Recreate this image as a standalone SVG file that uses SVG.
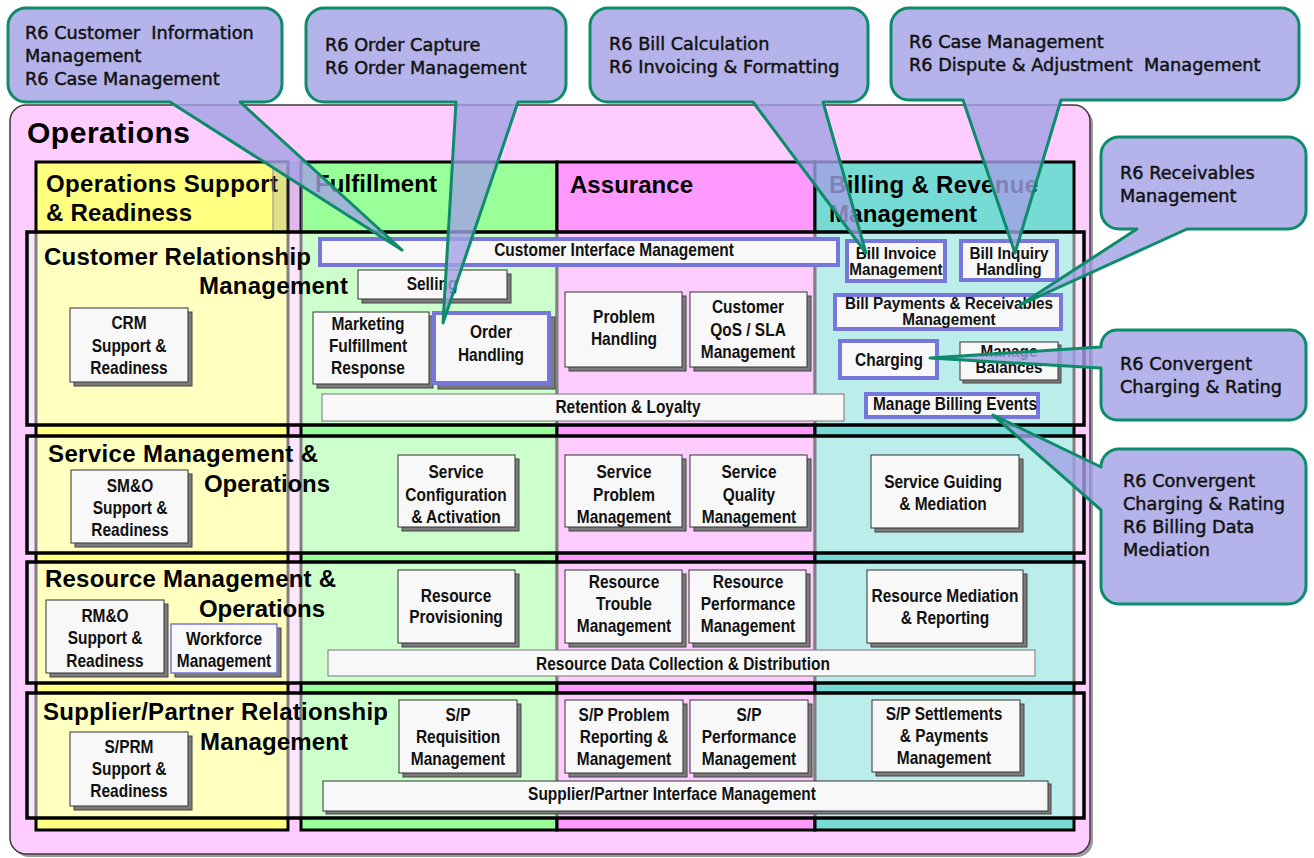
<svg xmlns="http://www.w3.org/2000/svg" width="1314" height="858" viewBox="0 0 1314 858">
<style>
.ttl{font-family:"Liberation Sans",Arial,sans-serif;font-weight:bold;font-size:24px;fill:#000}
.big{font-size:30px}
.bt{font-family:"Liberation Sans",Arial,sans-serif;font-weight:bold;font-size:18px;text-anchor:middle;fill:#111}
.sm{font-size:17px}
.box{fill:#f8f8f8;stroke:#333;stroke-width:1}
.flat{fill:#f8f8f8;stroke:#777;stroke-width:1}
.shd{fill:#7c7c7c;stroke:#444;stroke-width:1}
.hl{fill:#f8f8f8;stroke:#7676dc;stroke-width:4}
.thin{fill:#f8f8f8;stroke:#7676dc;stroke-width:1.5}
.col{stroke:#000;stroke-width:3}
.row{fill:#fff;fill-opacity:.5;stroke:#000;stroke-width:3.5}
.co{fill:#a1a1e5;fill-opacity:.8;stroke:#0c8c6a;stroke-width:3;stroke-linejoin:round}
.ct{font-family:"DejaVu Sans",Verdana,sans-serif;font-size:17.7px;fill:#111;stroke:#111;stroke-width:.45}
</style>

<!-- Operations frame -->
<g id="operations">
  <rect x="13" y="108" width="1080" height="749" rx="16" fill="#9a9a9a"/>
  <rect x="10" y="105" width="1080" height="749" rx="16" fill="#ffccff" stroke="#3a3a3a" stroke-width="1.5"/>
  <text class="ttl big" x="27" y="143" textLength="163">Operations</text>
</g>

<!-- Vertical process groupings -->
<g id="columns">
  <g id="col-osr">
    <rect class="col" x="36" y="162" width="252" height="668" fill="#ffff80"/>
    <text class="ttl" x="46" y="192" textLength="232">Operations Support</text>
    <text class="ttl" x="46" y="221" textLength="146">&amp; Readiness</text>
  </g>
  <g id="col-fulfillment">
    <rect class="col" x="301" y="162" width="256" height="668" fill="#99ff99"/>
    <text class="ttl" x="315" y="192" textLength="122">Fulfillment</text>
  </g>
  <g id="col-assurance">
    <rect class="col" x="557" y="162" width="258" height="668" fill="#ff99ff"/>
    <text class="ttl" x="570" y="193" textLength="123">Assurance</text>
  </g>
  <g id="col-billing">
    <rect class="col" x="815" y="162" width="259" height="668" fill="#77dbd5"/>
    <text class="ttl" x="829" y="193" textLength="209">Billing &amp; Revenue</text>
    <text class="ttl" x="829" y="222" textLength="148">Management</text>
  </g>
  <!-- faint divider band between the first two groupings -->
  <rect x="273" y="163" width="29" height="69" fill="#7070a0" fill-opacity=".22" stroke="#8a8a9a" stroke-width="1.5" stroke-opacity=".7"/>
</g>

<!-- Horizontal functional layers -->
<g id="rows">
  <g id="row-crm">
    <rect class="row" x="27" y="232" width="1057" height="193"/>
    <text class="ttl" x="44" y="265" textLength="267">Customer Relationship</text>
    <text class="ttl" x="199" y="294" textLength="149">Management</text>
  </g>
  <g id="row-service">
    <rect class="row" x="27" y="436" width="1057" height="117"/>
    <text class="ttl" x="48" y="462" textLength="270">Service Management &amp;</text>
    <text class="ttl" x="204" y="492" textLength="126">Operations</text>
  </g>
  <g id="row-resource">
    <rect class="row" x="27" y="562" width="1057" height="121"/>
    <text class="ttl" x="45" y="587" textLength="291">Resource Management &amp;</text>
    <text class="ttl" x="199" y="617" textLength="126">Operations</text>
  </g>
  <g id="row-supplier">
    <rect class="row" x="27" y="693" width="1057" height="125"/>
    <text class="ttl" x="43" y="720" textLength="345">Supplier/Partner Relationship</text>
    <text class="ttl" x="200" y="750" textLength="148">Management</text>
  </g>
</g>

<!-- Process boxes (labels set in a condensed bold face) -->
<g id="processes">
  <!-- Customer Relationship Management -->
  <g id="crm-support">
    <rect class="shd" x="74" y="312" width="118" height="74"/>
    <rect class="box" x="70" y="308" width="118" height="74"/>
    <text class="bt" transform="translate(129 0) scale(.86 1)"><tspan x="0" y="329">CRM</tspan><tspan x="0" y="352">Support &amp;</tspan><tspan x="0" y="374">Readiness</tspan></text>
  </g>
  <g id="customer-interface">
    <rect class="hl" x="320" y="239" width="518" height="26"/>
    <text class="bt" transform="translate(614 0) scale(.86 1)" x="0" y="256">Customer Interface Management</text>
  </g>
  <g id="selling">
    <rect class="shd" x="362" y="274" width="149" height="29"/>
    <rect class="box" x="358" y="270" width="149" height="29"/>
    <text class="bt" transform="translate(432 0) scale(.86 1)" x="0" y="290">Selling</text>
  </g>
  <g id="marketing-fulfillment">
    <rect class="shd" x="317" y="316" width="116" height="72"/>
    <rect class="box" x="313" y="312" width="116" height="72"/>
    <text class="bt" transform="translate(368 0) scale(.86 1)"><tspan x="0" y="330">Marketing</tspan><tspan x="0" y="352">Fulfillment</tspan><tspan x="0" y="374">Response</tspan></text>
  </g>
  <g id="order-handling">
    <rect class="shd" x="438" y="317" width="117" height="72"/>
    <rect class="hl" x="434" y="313" width="115" height="70"/>
    <text class="bt" transform="translate(491 0) scale(.86 1)"><tspan x="0" y="338">Order</tspan><tspan x="0" y="361">Handling</tspan></text>
  </g>
  <g id="problem-handling">
    <rect class="shd" x="569" y="296" width="117" height="75"/>
    <rect class="box" x="565" y="292" width="117" height="75"/>
    <text class="bt" transform="translate(624 0) scale(.86 1)"><tspan x="0" y="323">Problem</tspan><tspan x="0" y="345">Handling</tspan></text>
  </g>
  <g id="customer-qos">
    <rect class="shd" x="694" y="296" width="117" height="75"/>
    <rect class="box" x="690" y="292" width="117" height="75"/>
    <text class="bt" transform="translate(748 0) scale(.86 1)"><tspan x="0" y="313">Customer</tspan><tspan x="0" y="336">QoS / SLA</tspan><tspan x="0" y="358">Management</tspan></text>
  </g>
  <g id="retention-loyalty">
    <rect class="flat" x="322" y="394" width="522" height="27"/>
    <text class="bt" transform="translate(628 0) scale(.86 1)" x="0" y="413">Retention &amp; Loyalty</text>
  </g>
  <g id="bill-invoice">
    <rect class="hl" x="847" y="241" width="98" height="40"/>
    <text class="bt sm" transform="translate(896 0) scale(.9 1)"><tspan x="0" y="259">Bill Invoice</tspan><tspan x="0" y="275">Management</tspan></text>
  </g>
  <g id="bill-inquiry">
    <rect class="hl" x="961" y="241" width="96" height="39"/>
    <text class="bt sm" transform="translate(1009 0) scale(.9 1)"><tspan x="0" y="259">Bill Inquiry</tspan><tspan x="0" y="275">Handling</tspan></text>
  </g>
  <g id="bill-payments">
    <rect class="hl" x="835" y="295" width="226" height="34"/>
    <text class="bt sm" transform="translate(949 0) scale(.9 1)"><tspan x="0" y="309">Bill Payments &amp; Receivables</tspan><tspan x="0" y="325">Management</tspan></text>
  </g>
  <g id="charging">
    <rect class="hl" x="840" y="341" width="97" height="37"/>
    <text class="bt" transform="translate(889 0) scale(.86 1)" x="0" y="366">Charging</text>
  </g>
  <g id="manage-balances">
    <rect class="shd" x="963" y="345" width="98" height="38"/>
    <rect class="box" x="960" y="342" width="98" height="38"/>
    <text class="bt sm" transform="translate(1009 0) scale(.9 1)"><tspan x="0" y="357">Manage</tspan><tspan x="0" y="373">Balances</tspan></text>
  </g>
  <g id="billing-events">
    <rect class="hl" x="866" y="394" width="172" height="23"/>
    <text class="bt" transform="translate(955 0) scale(.86 1)" x="0" y="410">Manage Billing Events</text>
  </g>

  <!-- Service Management & Operations -->
  <g id="smo-support">
    <rect class="shd" x="75" y="474" width="117" height="73"/>
    <rect class="box" x="71" y="470" width="117" height="73"/>
    <text class="bt" transform="translate(130 0) scale(.86 1)"><tspan x="0" y="492">SM&amp;O</tspan><tspan x="0" y="514">Support &amp;</tspan><tspan x="0" y="536">Readiness</tspan></text>
  </g>
  <g id="service-config">
    <rect class="shd" x="402" y="459" width="117" height="72"/>
    <rect class="box" x="398" y="455" width="117" height="72"/>
    <text class="bt" transform="translate(456 0) scale(.86 1)"><tspan x="0" y="478">Service</tspan><tspan x="0" y="501">Configuration</tspan><tspan x="0" y="523">&amp; Activation</tspan></text>
  </g>
  <g id="service-problem">
    <rect class="shd" x="569" y="459" width="117" height="72"/>
    <rect class="box" x="565" y="455" width="117" height="72"/>
    <text class="bt" transform="translate(624 0) scale(.86 1)"><tspan x="0" y="478">Service</tspan><tspan x="0" y="501">Problem</tspan><tspan x="0" y="523">Management</tspan></text>
  </g>
  <g id="service-quality">
    <rect class="shd" x="694" y="459" width="117" height="72"/>
    <rect class="box" x="690" y="455" width="117" height="72"/>
    <text class="bt" transform="translate(749 0) scale(.86 1)"><tspan x="0" y="478">Service</tspan><tspan x="0" y="501">Quality</tspan><tspan x="0" y="523">Management</tspan></text>
  </g>
  <g id="service-guiding">
    <rect class="shd" x="875" y="459" width="148" height="73"/>
    <rect class="box" x="871" y="455" width="148" height="73"/>
    <text class="bt" transform="translate(943 0) scale(.86 1)"><tspan x="0" y="488">Service Guiding</tspan><tspan x="0" y="510">&amp; Mediation</tspan></text>
  </g>

  <!-- Resource Management & Operations -->
  <g id="rmo-support">
    <rect class="shd" x="50" y="604" width="118" height="73"/>
    <rect class="box" x="46" y="600" width="118" height="73"/>
    <text class="bt" transform="translate(105 0) scale(.86 1)"><tspan x="0" y="622">RM&amp;O</tspan><tspan x="0" y="644">Support &amp;</tspan><tspan x="0" y="667">Readiness</tspan></text>
  </g>
  <g id="workforce">
    <rect class="shd" x="175" y="628" width="106" height="49"/>
    <rect class="thin" x="171" y="624" width="106" height="49"/>
    <text class="bt" transform="translate(224 0) scale(.86 1)"><tspan x="0" y="645">Workforce</tspan><tspan x="0" y="667">Management</tspan></text>
  </g>
  <g id="resource-provisioning">
    <rect class="shd" x="402" y="574" width="117" height="73"/>
    <rect class="box" x="398" y="570" width="117" height="73"/>
    <text class="bt" transform="translate(456 0) scale(.86 1)"><tspan x="0" y="602">Resource</tspan><tspan x="0" y="623">Provisioning</tspan></text>
  </g>
  <g id="resource-trouble">
    <rect class="shd" x="569" y="574" width="117" height="73"/>
    <rect class="box" x="565" y="570" width="117" height="73"/>
    <text class="bt" transform="translate(624 0) scale(.86 1)"><tspan x="0" y="588">Resource</tspan><tspan x="0" y="610">Trouble</tspan><tspan x="0" y="632">Management</tspan></text>
  </g>
  <g id="resource-performance">
    <rect class="shd" x="693" y="574" width="117" height="73"/>
    <rect class="box" x="689" y="570" width="117" height="73"/>
    <text class="bt" transform="translate(748 0) scale(.86 1)"><tspan x="0" y="588">Resource</tspan><tspan x="0" y="610">Performance</tspan><tspan x="0" y="632">Management</tspan></text>
  </g>
  <g id="resource-mediation">
    <rect class="shd" x="871" y="574" width="156" height="73"/>
    <rect class="box" x="867" y="570" width="156" height="73"/>
    <text class="bt" transform="translate(945 0) scale(.86 1)"><tspan x="0" y="602">Resource Mediation</tspan><tspan x="0" y="624">&amp; Reporting</tspan></text>
  </g>
  <g id="resource-data">
    <rect class="flat" x="328" y="650" width="707" height="26"/>
    <text class="bt" transform="translate(683 0) scale(.86 1)" x="0" y="670">Resource Data Collection &amp; Distribution</text>
  </g>

  <!-- Supplier/Partner Relationship Management -->
  <g id="sprm-support">
    <rect class="shd" x="74" y="736" width="118" height="74"/>
    <rect class="box" x="70" y="732" width="118" height="74"/>
    <text class="bt" transform="translate(129 0) scale(.86 1)"><tspan x="0" y="753">S/PRM</tspan><tspan x="0" y="775">Support &amp;</tspan><tspan x="0" y="797">Readiness</tspan></text>
  </g>
  <g id="sp-requisition">
    <rect class="shd" x="403" y="704" width="118" height="73"/>
    <rect class="box" x="399" y="700" width="118" height="73"/>
    <text class="bt" transform="translate(458 0) scale(.86 1)"><tspan x="0" y="721">S/P</tspan><tspan x="0" y="743">Requisition</tspan><tspan x="0" y="765">Management</tspan></text>
  </g>
  <g id="sp-problem">
    <rect class="shd" x="569" y="704" width="118" height="73"/>
    <rect class="box" x="565" y="700" width="118" height="73"/>
    <text class="bt" transform="translate(624 0) scale(.86 1)"><tspan x="0" y="721">S/P Problem</tspan><tspan x="0" y="743">Reporting &amp;</tspan><tspan x="0" y="765">Management</tspan></text>
  </g>
  <g id="sp-performance">
    <rect class="shd" x="694" y="704" width="118" height="73"/>
    <rect class="box" x="690" y="700" width="118" height="73"/>
    <text class="bt" transform="translate(749 0) scale(.86 1)"><tspan x="0" y="721">S/P</tspan><tspan x="0" y="743">Performance</tspan><tspan x="0" y="765">Management</tspan></text>
  </g>
  <g id="sp-settlements">
    <rect class="shd" x="876" y="704" width="148" height="72"/>
    <rect class="box" x="872" y="700" width="148" height="72"/>
    <text class="bt" transform="translate(944 0) scale(.86 1)"><tspan x="0" y="720">S/P Settlements</tspan><tspan x="0" y="742">&amp; Payments</tspan><tspan x="0" y="764">Management</tspan></text>
  </g>
  <g id="sp-interface">
    <rect class="shd" x="326" y="784" width="725" height="30"/>
    <rect class="box" x="323" y="781" width="725" height="30"/>
    <text class="bt" transform="translate(672 0) scale(.86 1)" x="0" y="800">Supplier/Partner Interface Management</text>
  </g>
</g>

<!-- Release callouts pointing at processes -->
<g id="callouts">
  <g id="callout-customer-info">
    <path class="co" d="M26,8 H264 A18,18 0 0 1 282,26 V84 A18,18 0 0 1 264,102 H240 L402,250 L170,102 H26 A18,18 0 0 1 8,84 V26 A18,18 0 0 1 26,8 Z"/>
    <text class="ct" x="25" y="39" xml:space="preserve">R6 Customer  Information</text>
    <text class="ct" x="25" y="62">Management</text>
    <text class="ct" x="25" y="85">R6 Case Management</text>
  </g>
  <g id="callout-order">
    <path class="co" d="M324,8 H548 A18,18 0 0 1 566,26 V84 A18,18 0 0 1 548,102 H518 L443,323 L456,102 H324 A18,18 0 0 1 306,84 V26 A18,18 0 0 1 324,8 Z"/>
    <text class="ct" x="325" y="51">R6 Order Capture</text>
    <text class="ct" x="325" y="74">R6 Order Management</text>
  </g>
  <g id="callout-bill">
    <path class="co" d="M608,8 H850 A18,18 0 0 1 868,26 V84 A18,18 0 0 1 850,102 H823 L866,253 L753,102 H608 A18,18 0 0 1 590,84 V26 A18,18 0 0 1 608,8 Z"/>
    <text class="ct" x="609" y="50">R6 Bill Calculation</text>
    <text class="ct" x="609" y="73">R6 Invoicing &amp; Formatting</text>
  </g>
  <g id="callout-dispute">
    <path class="co" d="M909,8 H1281 A18,18 0 0 1 1299,26 V82 A18,18 0 0 1 1281,100 H1061 L1015,253 L963,100 H909 A18,18 0 0 1 891,82 V26 A18,18 0 0 1 909,8 Z"/>
    <text class="ct" x="909" y="48">R6 Case Management</text>
    <text class="ct" x="909" y="71" xml:space="preserve">R6 Dispute &amp; Adjustment  Management</text>
  </g>
  <g id="callout-receivables">
    <path class="co" d="M1119,137 H1288 A18,18 0 0 1 1306,155 V211 A18,18 0 0 1 1288,229 H1187 L1020,305 L1137,229 H1119 A18,18 0 0 1 1101,211 V155 A18,18 0 0 1 1119,137 Z"/>
    <text class="ct" x="1120" y="179">R6 Receivables</text>
    <text class="ct" x="1120" y="202">Management</text>
  </g>
  <g id="callout-charging">
    <path class="co" d="M1117,330 H1290 A16,16 0 0 1 1306,346 V404 A16,16 0 0 1 1290,420 H1117 A16,16 0 0 1 1101,404 V368 L930,358 L1101,347 V346 A16,16 0 0 1 1117,330 Z"/>
    <text class="ct" x="1120" y="370">R6 Convergent</text>
    <text class="ct" x="1120" y="393">Charging &amp; Rating</text>
  </g>
  <g id="callout-mediation">
    <path class="co" d="M1119,449 H1288 A18,18 0 0 1 1306,467 V586 A18,18 0 0 1 1288,604 H1119 A18,18 0 0 1 1101,586 V510 L993,415 L1101,467 A18,18 0 0 1 1119,449 Z"/>
    <text class="ct" x="1123" y="487">R6 Convergent</text>
    <text class="ct" x="1123" y="510">Charging &amp; Rating</text>
    <text class="ct" x="1123" y="533">R6 Billing Data</text>
    <text class="ct" x="1123" y="556">Mediation</text>
  </g>
</g>
</svg>
